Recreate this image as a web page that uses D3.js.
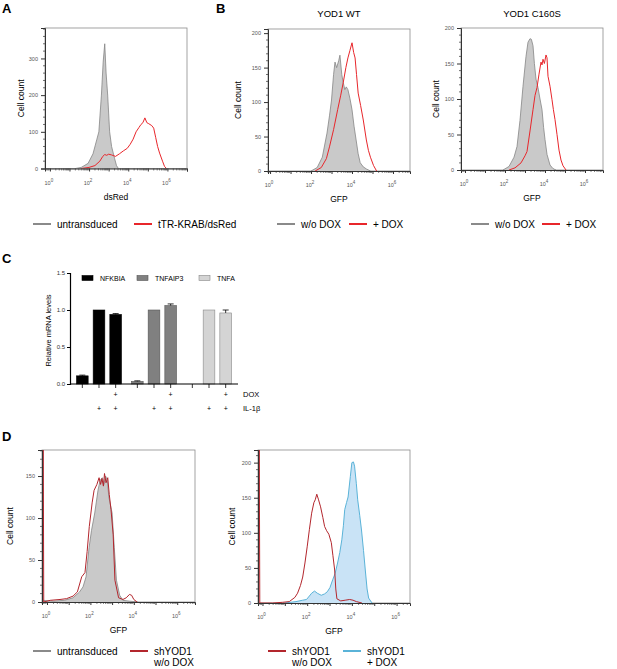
<!DOCTYPE html>
<html><head><meta charset="utf-8">
<script src="https://cdn.jsdelivr.net/npm/d3@7"></script>
<style>body{margin:0;background:#fff} svg{display:block;font-family:"Liberation Sans",Arial,sans-serif}</style>
</head><body>
<svg id="chart" width="617" height="669"></svg>
<script>
// ---------------- DATA ----------------
// histogram points: [log10(fluorescence), cell count]
const decadeLabels = [0, 2, 4, 6];

const A_untransduced = [[1.3,0],[1.6,3],[1.95,14],[2.2,40],[2.4,80],[2.5,100],[2.63,200],[2.72,290],[2.8,340],[2.87,260],[2.95,200],[3.05,100],[3.15,60],[3.3,28],[3.4,8],[3.5,0]];
const A_tTRKRAB = [[1.6,0],[2.0,3],[2.3,8],[2.55,20],[2.7,33],[2.8,38],[2.9,36],[3.0,39],[3.15,37],[3.35,33],[3.55,40],[3.75,48],[3.95,55],[4.1,66],[4.25,80],[4.4,100],[4.55,112],[4.65,120],[4.75,125],[4.85,138],[4.95,125],[5.05,122],[5.2,117],[5.3,110],[5.4,85],[5.5,60],[5.6,42],[5.75,20],[5.85,6],[5.95,0]];

const B1_woDOX = [[2.0,0],[2.3,5],[2.55,20],[2.78,55],[2.9,80],[3.0,103],[3.1,140],[3.17,158],[3.25,150],[3.35,160],[3.41,168],[3.5,140],[3.56,130],[3.65,118],[3.72,122],[3.8,118],[3.9,105],[4.0,89],[4.1,65],[4.2,45],[4.3,25],[4.4,12],[4.55,6],[4.7,3],[4.9,0]];
const B1_DOX = [[2.2,0],[2.5,5],[2.75,18],[2.9,35],[3.1,60],[3.3,89],[3.45,110],[3.57,128],[3.7,150],[3.8,164],[3.9,175],[4.0,186],[4.08,172],[4.15,164],[4.22,140],[4.3,113],[4.42,95],[4.55,74],[4.7,45],[4.8,30],[4.9,20],[5.05,8],[5.2,0]];

const B2_woDOX = [[1.9,0],[2.2,5],[2.45,18],[2.6,33],[2.75,70],[2.9,118],[3.05,160],[3.15,180],[3.25,185],[3.32,184],[3.4,175],[3.47,150],[3.55,128],[3.65,116],[3.75,100],[3.85,85],[3.93,60],[4.0,43],[4.1,22],[4.25,7],[4.4,2],[4.55,0]];
const B2_DOX = [[2.2,0],[2.5,3],[2.8,10],[3.0,20],[3.1,26],[3.25,55],[3.4,85],[3.5,105],[3.6,116],[3.7,135],[3.8,152],[3.85,148],[3.9,156],[3.97,150],[4.05,162],[4.1,158],[4.15,132],[4.25,118],[4.35,99],[4.42,85],[4.5,71],[4.6,50],[4.7,28],[4.8,14],[4.9,6],[5.05,0]];

const D1_untransduced = [[-0.2,2],[0.3,1],[0.8,2],[1.2,5],[1.5,12],[1.66,18],[1.8,30],[1.94,65],[2.05,85],[2.2,106],[2.35,133],[2.45,145],[2.55,148],[2.62,140],[2.7,150],[2.78,145],[2.85,125],[3.0,106],[3.1,65],[3.2,26],[3.35,8],[3.5,2],[3.8,1],[4.2,0]];
const D1_shYOD1_woDOX = [[-0.21,0],[-0.18,250],[-0.15,0],[0.15,2],[0.6,3],[0.9,4],[1.2,7],[1.4,12],[1.6,30],[1.75,35],[1.85,60],[1.95,90],[2.08,118],[2.17,133],[2.3,140],[2.4,148],[2.47,140],[2.53,147],[2.6,138],[2.65,153],[2.72,142],[2.8,148],[2.87,128],[2.95,110],[3.05,80],[3.13,26],[3.3,5],[3.5,3],[3.65,5],[3.8,9],[3.9,8],[4.0,3],[4.15,0]];

const D2_shYOD1_woDOX = [[-0.18,0],[-0.15,300],[-0.12,0],[0.45,0],[0.9,1],[1.2,2],[1.45,8],[1.57,14],[1.7,25],[1.8,37],[1.9,57],[2.0,80],[2.1,105],[2.2,128],[2.3,143],[2.36,147],[2.43,155],[2.5,148],[2.6,137],[2.7,122],[2.78,109],[2.87,103],[2.97,98],[3.08,86],[3.15,68],[3.23,47],[3.28,20],[3.33,6],[3.5,3],[3.7,4],[3.9,5],[4.05,4],[4.2,2],[4.45,0]];
const D2_shYOD1_DOX = [[1.0,0],[1.5,2],[1.8,4],[1.97,5],[2.1,10],[2.2,14],[2.33,17],[2.45,14],[2.63,11],[2.78,13],[2.9,16],[3.02,22],[3.14,33],[3.25,42],[3.36,57],[3.46,72],[3.55,90],[3.62,110],[3.68,133],[3.76,143],[3.83,151],[3.93,180],[4.0,200],[4.07,201],[4.12,195],[4.2,170],[4.26,147],[4.35,125],[4.43,104],[4.52,75],[4.6,47],[4.68,20],[4.75,7],[4.9,0]];

// Panel C
const genes = ["NFKBIA", "TNFAIP3", "TNFA"];
const conditions = ["ctrl", "IL1b", "IL1b_DOX"];
const NFKBIA_values = [0.11, 1.0, 0.94];
const TNFAIP3_values = [0.035, 1.0, 1.06];
const TNFA_values = [0.0, 1.0, 0.96];
const NFKBIA_err = [0.01, 0, 0.012];
const TNFAIP3_err = [0.008, 0, 0.022];
const TNFA_err = [0, 0, 0.04];
const doxRow = ["", "", "+"];
const il1bRow = ["", "+", "+"];
const C_yTicks = [0, 0.5, 1.0, 1.5];

// ---------------- DRAW ----------------
const svg = d3.select("#chart");
const FONT = '"Liberation Sans",Arial,sans-serif';
const GRAY_FILL = "#c9c9c9", GRAY_LINE = "#858585";
const RED = "#e8262b", DARKRED = "#b3262d", BLUE = "#5ab3d8", BLUE_FILL = "#c9e3f6";

function panelLabel(t, x, y) {
  svg.append("text").attr("x", x).attr("y", y).attr("font-size", 13).attr("font-weight", "bold").text(t);
}

let clipN = 0;
function histPanel(o) {
  const g = svg.append("g");
  const x = d3.scaleLinear().domain(o.xd).range([o.l, o.r]);
  const y = d3.scaleLinear().domain(o.yd).range([o.b, o.t]);
  const cid = "clip" + (clipN++);
  svg.append("clipPath").attr("id", cid).append("rect")
    .attr("x", o.l).attr("y", o.t).attr("width", o.r - o.l).attr("height", o.b - o.t);
  g.append("rect").attr("x", o.l).attr("y", o.t).attr("width", o.r - o.l).attr("height", o.b - o.t)
    .attr("fill", "none").attr("stroke", "#8c8c8c").attr("stroke-width", 0.8);
  const gs = g.append("g").attr("clip-path", `url(#${cid})`);
  o.series.forEach(s => {
    if (s.fill) {
      gs.append("path").datum(s.data)
        .attr("d", d3.area().x(d => x(d[0])).y0(y(0)).y1(d => y(d[1])))
        .attr("fill", s.fill);
    }
    gs.append("path").datum(s.data)
      .attr("d", d3.line().x(d => x(d[0])).y(d => y(d[1])))
      .attr("fill", "none").attr("stroke", s.stroke).attr("stroke-width", s.w || 1).attr("stroke-linejoin", "round");
  });
  // y axis
  const ya = g.append("g").attr("transform", `translate(${o.l},0)`)
    .call(d3.axisLeft(y).tickValues(o.yTicks).tickSize(4).tickPadding(3).tickFormat(d3.format("d")));
  ya.select(".domain").attr("stroke", "#333").attr("stroke-width", 1);
  ya.selectAll(".tick line").attr("stroke", "#333");
  ya.selectAll("text").attr("font-size", 5.5).attr("fill", "#555").attr("font-family", FONT);
  const yMinor = d3.range(0, o.yd[1], o.yMinor).filter(v => !o.yTicks.includes(v));
  ya.selectAll(".mn").data(yMinor).enter().append("line").attr("class", "mn")
    .attr("x1", -2).attr("x2", 0).attr("y1", d => y(d)).attr("y2", d => y(d)).attr("stroke", "#333").attr("stroke-width", 0.7);
  // x axis
  const majors = d3.range(Math.ceil(o.xd[0]), Math.floor(o.xd[1]) + 1);
  const xa = g.append("g").attr("transform", `translate(0,${o.b})`)
    .call(d3.axisBottom(x).tickValues(majors).tickSize(3).tickFormat(""));
  xa.select(".domain").attr("stroke", "#333").attr("stroke-width", 1);
  xa.selectAll(".tick line").attr("stroke", "#333");
  const minors = [];
  for (let k = Math.floor(o.xd[0]); k <= Math.ceil(o.xd[1]); k++)
    for (let m = 2; m <= 9; m++) { const v = k + Math.log10(m); if (v > o.xd[0] && v < o.xd[1]) minors.push(v); }
  xa.selectAll(".mn").data(minors).enter().append("line").attr("class", "mn")
    .attr("x1", d => x(d)).attr("x2", d => x(d)).attr("y1", 0).attr("y2", 2).attr("stroke", "#333").attr("stroke-width", 0.6);
  const lab = xa.selectAll(".dl").data(decadeLabels).enter().append("text").attr("class", "dl")
    .attr("x", d => x(d) - 1).attr("y", 16).attr("text-anchor", "middle")
    .attr("font-size", 5.5).attr("fill", "#555");
  lab.append("tspan").text("10");
  lab.append("tspan").attr("dy", -3).attr("font-size", 4.5).text(d => d);
  // labels
  svg.append("text").attr("transform", `translate(${o.ylx},${(o.t + o.b) / 2}) rotate(-90)`)
    .attr("text-anchor", "middle").attr("font-size", 8.5).text("Cell count");
  svg.append("text").attr("x", (o.l + o.r) / 2).attr("y", o.b + 31).attr("text-anchor", "middle")
    .attr("font-size", 8.5).text(o.xlabel);
  if (o.title) svg.append("text").attr("x", (o.l + o.r) / 2).attr("y", 17).attr("text-anchor", "middle")
    .attr("font-size", 9.5).text(o.title);
}

function legendItem(x1, y, color, lines) {
  svg.append("line").attr("x1", x1).attr("x2", x1 + 18).attr("y1", y).attr("y2", y)
    .attr("stroke", color).attr("stroke-width", 2);
  const t = svg.append("text").attr("x", x1 + 24).attr("y", y + 3.5).attr("font-size", 10);
  lines.forEach((l, i) => t.append("tspan").attr("x", x1 + 24).attr("dy", i ? 11.5 : 0).text(l));
}

// ---- Panel A ----
panelLabel("A", 2, 13);
histPanel({ l: 45, r: 187, t: 28, b: 168.5, xd: [-0.25, 7.0], yd: [0, 383], yTicks: [0, 100, 200, 300], yMinor: 20,
  ylx: 24, xlabel: "dsRed",
  series: [{ data: A_untransduced, fill: GRAY_FILL, stroke: GRAY_LINE, w: 0.8 }, { data: A_tTRKRAB, stroke: RED, w: 1 }] });
legendItem(33, 224, "#8a8a8a", ["untransduced"]);
legendItem(134, 224, RED, ["tTR-KRAB/dsRed"]);

// ---- Panel B ----
panelLabel("B", 216, 13);
histPanel({ l: 268, r: 410, t: 29, b: 171, xd: [-0.1, 6.83], yd: [0, 206], yTicks: [0, 50, 100, 150, 200], yMinor: 10,
  ylx: 241, xlabel: "GFP", title: "YOD1 WT",
  series: [{ data: B1_woDOX, fill: GRAY_FILL, stroke: GRAY_LINE, w: 0.8 }, { data: B1_DOX, stroke: RED, w: 1 }] });
legendItem(277, 224, "#8a8a8a", ["w/o DOX"]);
legendItem(349, 224, RED, ["+ DOX"]);

histPanel({ l: 461, r: 603, t: 28, b: 170, xd: [-0.2, 6.9], yd: [0, 200], yTicks: [0, 50, 100, 150, 200], yMinor: 10,
  ylx: 439, xlabel: "GFP", title: "YOD1 C160S",
  series: [{ data: B2_woDOX, fill: GRAY_FILL, stroke: GRAY_LINE, w: 0.8 }, { data: B2_DOX, stroke: RED, w: 1 }] });
legendItem(471, 224, "#8a8a8a", ["w/o DOX"]);
legendItem(542, 224, RED, ["+ DOX"]);

// ---- Panel C ----
panelLabel("C", 2, 263);
(function () {
  const l = 70, r = 238, t = 273, b = 384;
  const g = svg.append("g");
  const gx = d3.scaleBand().domain(genes).range([l, r]).paddingInner(0.1818).paddingOuter(0.118);
  const cx = d3.scaleBand().domain(conditions).range([0, gx.bandwidth()]).paddingInner(0.3).paddingOuter(0);
  const y = d3.scaleLinear().domain([0, 1.5]).range([b, t]);
  const vals = { NFKBIA: NFKBIA_values, TNFAIP3: TNFAIP3_values, TNFA: TNFA_values };
  const errs = { NFKBIA: NFKBIA_err, TNFAIP3: TNFAIP3_err, TNFA: TNFA_err };
  const fills = { NFKBIA: "#000000", TNFAIP3: "#808080", TNFA: "#d4d4d4" };
  const strokes = { NFKBIA: "#000000", TNFAIP3: "#555555", TNFA: "#888888" };
  const bars = [];
  genes.forEach(gn => conditions.forEach((c, i) => bars.push({ g: gn, c, i, v: vals[gn][i], e: errs[gn][i] })));
  const bx = d => gx(d.g) + cx(d.c);
  g.selectAll(".bar").data(bars.filter(d => d.v > 0)).enter().append("rect")
    .attr("x", bx).attr("width", cx.bandwidth()).attr("y", d => y(d.v)).attr("height", d => y(0) - y(d.v))
    .attr("fill", d => fills[d.g]).attr("stroke", d => strokes[d.g]).attr("stroke-width", 0.6);
  const eb = bars.filter(d => d.e > 0);
  g.selectAll(".ev").data(eb).enter().append("line")
    .attr("x1", d => bx(d) + cx.bandwidth() / 2).attr("x2", d => bx(d) + cx.bandwidth() / 2)
    .attr("y1", d => y(d.v)).attr("y2", d => y(d.v + d.e)).attr("stroke", "#000").attr("stroke-width", 0.8);
  g.selectAll(".ec").data(eb).enter().append("line")
    .attr("x1", d => bx(d) + cx.bandwidth() / 2 - 3).attr("x2", d => bx(d) + cx.bandwidth() / 2 + 3)
    .attr("y1", d => y(d.v + d.e)).attr("y2", d => y(d.v + d.e)).attr("stroke", "#000").attr("stroke-width", 0.8);
  // axes
  const ya = g.append("g").attr("transform", `translate(${l},0)`)
    .call(d3.axisLeft(y).tickValues(C_yTicks).tickSize(3).tickPadding(2).tickFormat(d3.format(".1f")));
  ya.selectAll("text").attr("font-size", 6).attr("fill", "#333").attr("font-family", FONT);
  ya.select(".domain").attr("stroke-width", 1.2);
  g.append("line").attr("x1", l).attr("x2", r).attr("y1", b).attr("y2", b).attr("stroke", "#000").attr("stroke-width", 1.2);
  g.selectAll(".xt").data(bars).enter().append("line")
    .attr("x1", d => bx(d) + cx.bandwidth() / 2).attr("x2", d => bx(d) + cx.bandwidth() / 2)
    .attr("y1", b).attr("y2", b + 4).attr("stroke", "#000").attr("stroke-width", 0.8);
  // treatment rows
  g.selectAll(".dox").data(bars).enter().append("text")
    .attr("x", d => bx(d) + cx.bandwidth() / 2).attr("y", 396.5).attr("text-anchor", "middle").attr("font-size", 7)
    .text(d => doxRow[d.i]);
  g.selectAll(".il").data(bars).enter().append("text")
    .attr("x", d => bx(d) + cx.bandwidth() / 2).attr("y", 410.5).attr("text-anchor", "middle").attr("font-size", 7)
    .text(d => il1bRow[d.i]);
  g.append("text").attr("x", 243).attr("y", 397).attr("font-size", 7.5).text("DOX");
  g.append("text").attr("x", 243).attr("y", 411).attr("font-size", 7.5).text("IL-1β");
  g.append("text").attr("transform", `translate(51,${(t + b) / 2 + 2}) rotate(-90)`).attr("text-anchor", "middle")
    .attr("font-size", 7.5).text("Relative mRNA levels");
  // legend
  const lx = [82, 137, 199];
  genes.forEach((gn, i) => {
    g.append("rect").attr("x", lx[i]).attr("y", 275.5).attr("width", 11).attr("height", 5)
      .attr("fill", fills[gn]).attr("stroke", strokes[gn]).attr("stroke-width", 0.6);
    g.append("text").attr("x", lx[i] + 18).attr("y", 280.5).attr("font-size", 7).text(gn);
  });
})();

// ---- Panel D ----
panelLabel("D", 2, 441);
histPanel({ l: 42, r: 195, t: 450, b: 602, xd: [-0.23, 6.82], yd: [0, 181], yTicks: [0, 50, 100, 150], yMinor: 10,
  ylx: 13, xlabel: "GFP",
  series: [{ data: D1_untransduced, fill: GRAY_FILL, stroke: GRAY_LINE, w: 0.8 }, { data: D1_shYOD1_woDOX, stroke: DARKRED, w: 1 }] });
legendItem(33, 651, "#8a8a8a", ["untransduced"]);
legendItem(130, 651, DARKRED, ["shYOD1", "w/o DOX"]);

histPanel({ l: 258, r: 410, t: 450, b: 603, xd: [-0.2, 6.6], yd: [0, 218], yTicks: [0, 50, 100, 150, 200], yMinor: 10,
  ylx: 235, xlabel: "GFP",
  series: [{ data: D2_shYOD1_DOX, fill: BLUE_FILL, stroke: BLUE, w: 1 }, { data: D2_shYOD1_woDOX, stroke: DARKRED, w: 1 }] });
legendItem(268, 651, DARKRED, ["shYOD1", "w/o DOX"]);
legendItem(343, 651, BLUE, ["shYOD1", "+ DOX"]);
</script>
</body></html>
